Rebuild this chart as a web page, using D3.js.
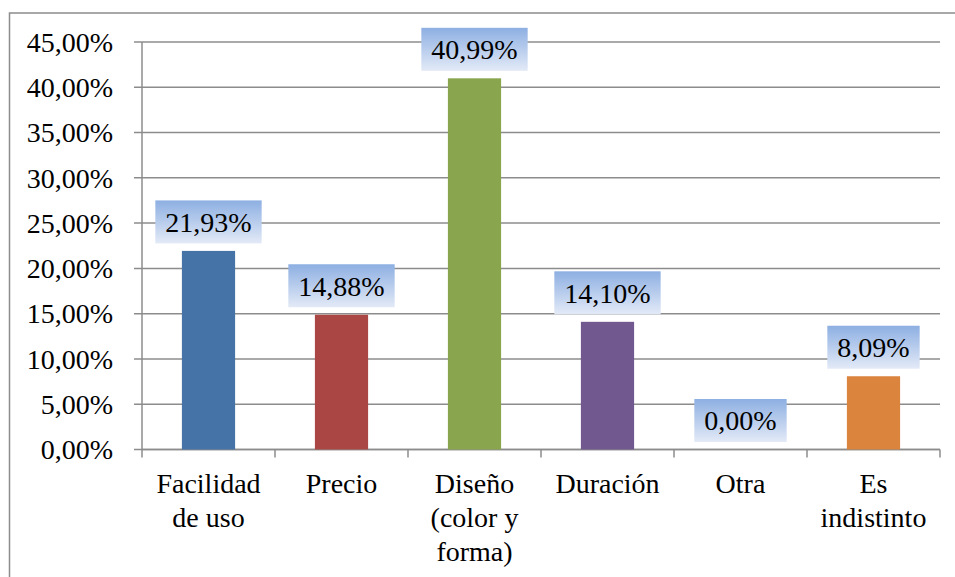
<!DOCTYPE html>
<html><head><meta charset="utf-8">
<script src="https://cdn.jsdelivr.net/npm/d3@7"></script>
<style>
  body { margin: 0; background: #fff; }
  svg { display: block; }
</style>
</head><body>
<svg id="chart" width="955" height="577"></svg>
<script>
// Category names, percentages and bar fills
const categories = ["Facilidad de uso", "Precio", "Diseño (color y forma)", "Duración", "Otra", "Es indistinto"];
const values = [21.93, 14.88, 40.99, 14.10, 0.00, 8.09];
const barColors = ["#4572A7", "#AA4643", "#89A54E", "#71588F", "#4198AF", "#DB843D"];
const yTicks = [0, 5, 10, 15, 20, 25, 30, 35, 40, 45];

const fmt = v => v.toFixed(2).replace(".", ",") + "%";
const FONT = "Liberation Serif";

const svg = d3.select("#chart");
const plot = { left: 142, right: 940, top: 42, bottom: 449.5 };
const gridColor = "#8c8c8c";
const fontSize = 28;

// Shared text styling
const styleText = sel => sel.attr("font-family", FONT).attr("font-size", fontSize)
  .style("font-family", "'Liberation Serif'").style("font-size", fontSize + "px").attr("fill", "#000");

// Outer chart frame
svg.append("rect")
  .attr("x", 9.5).attr("y", 13).attr("width", 980).attr("height", 600)
  .attr("fill", "none").attr("stroke", gridColor).attr("stroke-width", 1.5);

const y = d3.scaleLinear().domain([0, 45]).range([plot.bottom, plot.top]);
const x = d3.scaleBand().domain(categories)
  .range([plot.left, plot.right]).paddingInner(0.6).paddingOuter(0.3);

// Horizontal gridlines with left tick stubs
svg.selectAll(".grid").data(yTicks).join("line")
  .attr("class", "grid")
  .attr("x1", plot.left - 8).attr("x2", plot.right)
  .attr("y1", d => y(d)).attr("y2", d => y(d))
  .attr("stroke", gridColor).attr("stroke-width", 1.5);

// Y tick labels
svg.selectAll(".ylab").data(yTicks).join("text")
  .attr("class", "ylab")
  .attr("x", plot.left - 29).attr("y", d => y(d) + 9.8)
  .attr("text-anchor", "end")
  .call(styleText)
  .text(fmt);

// Y axis line
svg.append("line")
  .attr("x1", plot.left).attr("x2", plot.left).attr("y1", plot.top).attr("y2", plot.bottom)
  .attr("stroke", gridColor).attr("stroke-width", 1.5);

// X axis baseline and category separators
svg.append("line")
  .attr("x1", plot.left).attr("x2", plot.right).attr("y1", plot.bottom).attr("y2", plot.bottom)
  .attr("stroke", gridColor).attr("stroke-width", 1.5);
const step = x.step();
const bounds = d3.range(categories.length + 1).map(i => plot.left + i * step);
svg.selectAll(".sep").data(bounds).join("line")
  .attr("class", "sep")
  .attr("x1", d => d).attr("x2", d => d)
  .attr("y1", plot.bottom).attr("y2", plot.bottom + 8)
  .attr("stroke", gridColor).attr("stroke-width", 1.5);

// Category labels, wrapped to the category width
const catG = svg.selectAll(".cat").data(categories).join("text")
  .attr("class", "cat")
  .attr("text-anchor", "middle")
  .call(styleText)
  .attr("x", d => x(d) + x.bandwidth() / 2)
  .attr("y", 493);
catG.each(function(d) {
  const el = d3.select(this);
  const cx = x(d) + x.bandwidth() / 2;
  const words = d.split(" ");
  let lines = [], line = [];
  const probe = el.append("tspan");
  words.forEach(w => {
    probe.text(line.concat(w).join(" "));
    if (line.length && probe.node().getComputedTextLength() > step - 6) {
      lines.push(line.join(" "));
      line = [w];
    } else line.push(w);
  });
  lines.push(line.join(" "));
  probe.remove();
  lines.forEach((t, i) => {
    el.append("tspan").attr("x", cx).attr("dy", i === 0 ? 0 : 34).text(t);
  });
});

// Bars
svg.selectAll(".bar").data(values).join("rect")
  .attr("class", "bar")
  .attr("x", (d, i) => x(categories[i]))
  .attr("width", x.bandwidth())
  .attr("y", d => y(d))
  .attr("height", d => y(0) - y(d))
  .attr("fill", (d, i) => barColors[i]);

// Value labels in gradient boxes
const defs = svg.append("defs");
const grad = defs.append("linearGradient").attr("id", "lblGrad")
  .attr("x1", 0).attr("y1", 0).attr("x2", 0).attr("y2", 1);
grad.append("stop").attr("offset", "0%").attr("stop-color", "#8DAFE2");
grad.append("stop").attr("offset", "100%").attr("stop-color", "#E3EAF7");

const lbl = svg.selectAll(".lbl").data(values).join("g").attr("class", "lbl");
lbl.each(function(d, i) {
  const g = d3.select(this);
  const cx = x(categories[i]) + x.bandwidth() / 2;
  const boxH = 43;
  const bottom = y(d) - 7.5;
  const t = g.append("text")
    .call(styleText)
    .attr("text-anchor", "middle")
    .attr("x", cx).attr("y", bottom - boxH / 2 + 9.8).text(fmt(d));
  const w = t.node().getComputedTextLength() + 20;
  g.insert("rect", "text")
    .attr("x", cx - w / 2).attr("y", bottom - boxH)
    .attr("width", w).attr("height", boxH)
    .attr("fill", "url(#lblGrad)");
});
</script>
</body></html>
